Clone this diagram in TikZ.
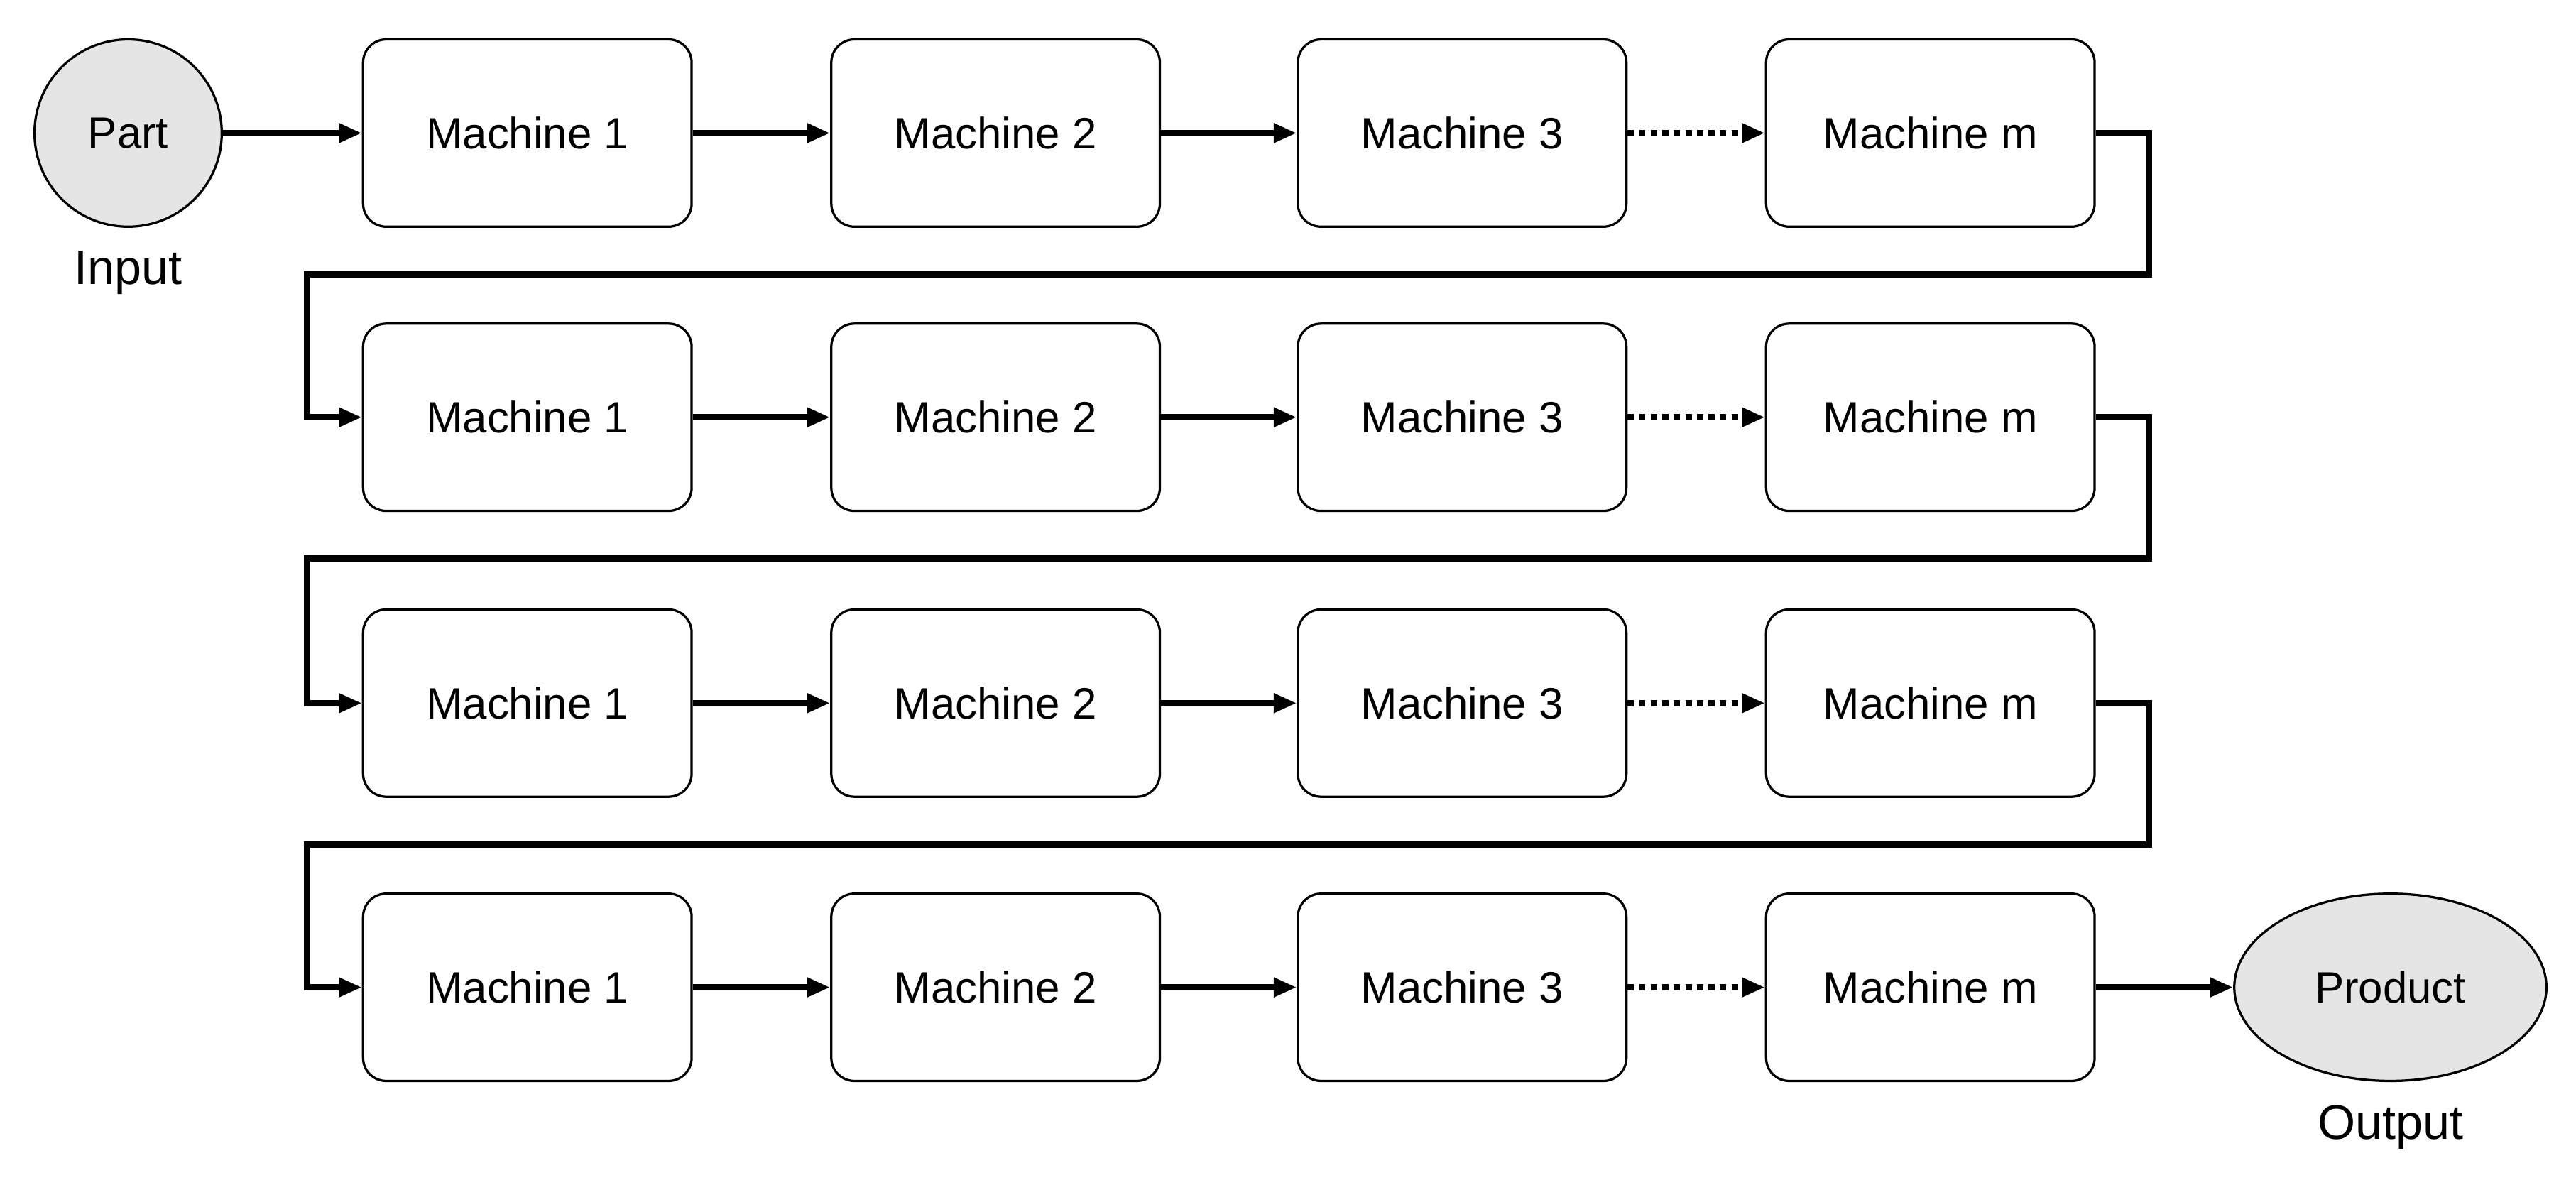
\documentclass[tikz,border=0pt]{standalone}
\usepackage{fontspec}
\setmainfont{Liberation Sans}
\usetikzlibrary{arrows.meta,shapes.geometric}
\begin{document}
\begin{tikzpicture}[x=0.1cm,y=-0.1cm,
  mbox/.style={draw=black,line width=4pt,rounded corners=40pt,minimum width=200mm,minimum height=114mm,inner sep=0pt,font=\fontsize{76}{86}\selectfont},
  conn/.style={line width=11pt,-{Triangle[length=40pt,width=32pt]}},
  dconn/.style={conn,dash pattern=on 11pt off 9pt},
  lbl/.style={font=\fontsize{84}{96}\selectfont}]
\useasboundingbox (0,0) rectangle (1568,721);
\foreach \r/\y in {1/81,2/254,3/428,4/601}{
  \node[mbox] (a\r) at (321,\y) {Machine 1};
  \node[mbox] (b\r) at (606,\y) {Machine 2};
  \node[mbox] (c\r) at (890,\y) {Machine 3};
  \node[mbox] (d\r) at (1175,\y) {Machine m};
  \draw[conn] (a\r) -- (b\r);
  \draw[conn] (b\r) -- (c\r);
  \draw[dconn] (c\r) -- (d\r);
}
\node[circle,draw,line width=4pt,fill=gray!20,minimum size=114mm,inner sep=0pt,font=\fontsize{76}{86}\selectfont] (part) at (78,81) {Part};
\node[lbl] (in) at (78,166) {Input};
\node[ellipse,draw,line width=4pt,fill=gray!20,minimum width=190mm,minimum height=114mm,inner sep=0pt,font=\fontsize{76}{86}\selectfont] (prod) at (1455,601) {Product};
\node[lbl] (out) at (1455,686) {Output};
\draw[conn] (part) -- (a1);
\draw[conn] (d4) -- (prod);
\foreach \r/\n/\m in {1/2/167,2/3/340,3/4/514}{
  \draw[conn] (d\r.east) -| (1308,\m) -| (187,\m) |- (a\n.west);
}
\end{tikzpicture}
\end{document}
